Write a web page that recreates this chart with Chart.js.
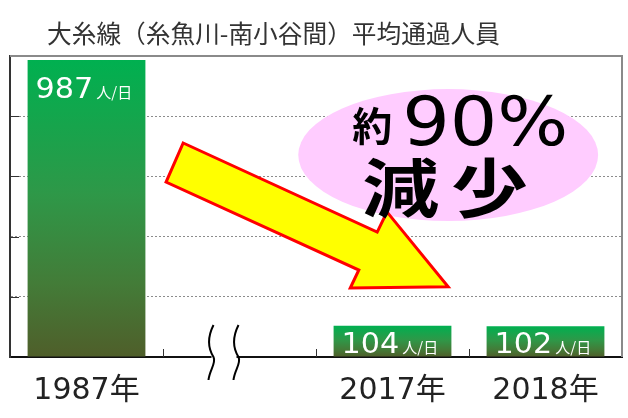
<!DOCTYPE html>
<html>
<head>
<meta charset="utf-8">
<script src="https://cdn.jsdelivr.net/npm/chart.js@4"></script>
<style>
  body { margin: 0; background: #fff; }
  #wrap { position: relative; width: 628px; height: 418px; }
  #title {
    position: absolute; left: 47px; top: 14px;
    font: 24.7px 'Noto Sans CJK JP', sans-serif; color: #333; white-space: nowrap;
  }
</style>
</head>
<body>
<div id="wrap">
  <canvas id="trainChart" width="628" height="418"></canvas>
  <div id="title">大糸線（糸魚川-南小谷間）平均通過人員</div>
</div>
<script>
// chart values
const years = ['1987年', '', '2017年', '2018年'];
const riders = [987, null, 104, 102];
const unitText = '人/日';
const yTicks = [0, 200, 400, 600, 800, 1000];
const calloutSmall = '約';
const calloutBig = '90%';
const calloutWord = '減少';

// arrow outline as fractions of the plot area
const arrowShape = [
    [0.283, 0.289], [0.600, 0.585], [0.616, 0.518], [0.716, 0.767],
    [0.556, 0.771], [0.570, 0.711], [0.255, 0.419]
];

function barFill(c) {
    const chart = c.chart;
    const area = chart.chartArea;
    if (!area || c.raw == null) return '#00B050';
    const top = chart.scales.y.getPixelForValue(c.raw);
    const g = chart.ctx.createLinearGradient(0, top, 0, area.bottom);
    g.addColorStop(0, '#00B050');
    g.addColorStop(0.45, '#2E9848');
    g.addColorStop(0.75, '#437C38');
    g.addColorStop(1, '#4F5E2A');
    return g;
}

const decorations = {
    id: 'decorations',
    afterDatasetsDraw(chart) {
        const ctx = chart.ctx;
        const a = chart.chartArea;
        const x = chart.scales.x;
        const y = chart.scales.y;
        const w = a.right - a.left, h = a.bottom - a.top;

        ctx.save();
        // top and right frame
        ctx.strokeStyle = '#8a8a8a';
        ctx.lineWidth = 2;
        ctx.beginPath();
        ctx.moveTo(a.left, a.top);
        ctx.lineTo(a.right, a.top);
        ctx.lineTo(a.right, a.bottom);
        ctx.stroke();

        // inner tick marks
        ctx.strokeStyle = '#333';
        ctx.lineWidth = 1;
        yTicks.slice(1, -1).forEach(v => {
            const py = Math.round(y.getPixelForValue(v)) + 0.5;
            ctx.beginPath();
            ctx.moveTo(a.left, py);
            ctx.lineTo(a.left + 9, py);
            ctx.stroke();
        });
        for (let i = 0; i < years.length - 1; i++) {
            const px = Math.round((x.getPixelForValue(i) + x.getPixelForValue(i + 1)) / 2) + 0.5;
            ctx.beginPath();
            ctx.moveTo(px, a.bottom);
            ctx.lineTo(px, a.bottom - 8);
            ctx.stroke();
        }

        // axis break
        const cx = x.getPixelForValue(1);
        const breaks = [cx - 28, cx - 3];
        ctx.fillStyle = '#fff';
        ctx.fillRect(breaks[0], a.bottom - 2, breaks[1] - breaks[0], 4);
        ctx.strokeStyle = '#000';
        ctx.lineWidth = 2;
        breaks.forEach(bx => {
            const t = a.bottom - 32, b = a.bottom + 23;
            ctx.beginPath();
            ctx.moveTo(bx + 2, t);
            ctx.bezierCurveTo(bx - 5, t + 14, bx - 3, t + 24, bx + 2, a.bottom);
            ctx.bezierCurveTo(bx + 5, a.bottom + 6, bx - 2, b - 10, bx - 3, b);
            ctx.stroke();
        });

        // pink callout
        const ex = a.left + 0.716 * w, ey = a.top + 0.329 * h;
        ctx.fillStyle = '#FFCCFF';
        ctx.beginPath();
        ctx.ellipse(ex, ey, 0.245 * w, 0.219 * h, 0, 0, Math.PI * 2);
        ctx.fill();

        // arrow
        ctx.fillStyle = '#FFFF00';
        ctx.strokeStyle = '#FF0000';
        ctx.lineWidth = 3;
        ctx.lineJoin = 'miter';
        ctx.beginPath();
        arrowShape.forEach((p, i) => {
            const px = a.left + p[0] * w, py = a.top + p[1] * h;
            if (i === 0) ctx.moveTo(px, py); else ctx.lineTo(px, py);
        });
        ctx.closePath();
        ctx.fill();
        ctx.stroke();

        // callout text
        ctx.fillStyle = '#000';
        ctx.textBaseline = 'alphabetic';
        ctx.textAlign = 'left';
        ctx.font = 'bold 40px "Noto Sans CJK JP"';
        ctx.fillText(calloutSmall, ex - 96, ey - 14);
        ctx.save();
        ctx.translate(ex - 46, ey - 10);
        ctx.scale(1.1, 1);
        ctx.font = '68px "DejaVu Sans"';
        ctx.fillText(calloutBig, 0, 0);
        ctx.restore();
        ctx.save();
        ctx.translate(ex - 86, ey + 57);
        ctx.scale(1.2, 1);
        ctx.font = 'bold 64px "Noto Sans CJK JP"';
        ctx.letterSpacing = '10px';
        ctx.fillText(calloutWord, 0, 0);
        ctx.restore();

        // value labels inside the bars
        const meta = chart.getDatasetMeta(0);
        meta.data.forEach((bar, i) => {
            if (riders[i] == null) return;
            const left = bar.x - bar.width / 2 + 8;
            const base = Math.min(bar.y + 38, a.bottom - 4);
            ctx.fillStyle = '#fff';
            ctx.save();
            ctx.translate(left, base);
            ctx.scale(1.08, 1);
            ctx.font = '28px "DejaVu Sans"';
            const num = String(riders[i]);
            ctx.fillText(num, 0, 0);
            const nw = ctx.measureText(num).width * 1.08;
            ctx.restore();
            ctx.font = '15px "Noto Sans CJK JP"';
            ctx.fillText(unitText, left + nw + 3, base);
        });
        ctx.restore();
    }
};

new Chart(document.getElementById('trainChart'), {
    type: 'bar',
    data: {
        labels: years,
        datasets: [{
            data: riders,
            backgroundColor: barFill,
            borderWidth: 0,
            categoryPercentage: 1,
            barPercentage: 0.77
        }]
    },
    options: {
        responsive: false,
        animation: false,
        devicePixelRatio: 1,
        layout: { padding: { left: 10, right: 6, top: 56, bottom: 0 } },
        plugins: { legend: { display: false }, title: { display: false }, tooltip: { enabled: false } },
        scales: {
            x: {
                afterFit: scale => { scale.height = 61; },
                grid: { display: false, drawTicks: false },
                border: { display: true, color: '#111', width: 2 },
                ticks: {
                    color: '#222',
                    padding: 16,
                    font: { family: "'DejaVu Sans', 'Noto Sans CJK JP'", size: 30 }
                }
            },
            y: {
                min: 0,
                max: 1000,
                ticks: { display: false, stepSize: 200 },
                grid: {
                    drawTicks: false,
                    color: c => (c.tick.value === 0 || c.tick.value === 1000) ? 'rgba(0,0,0,0)' : '#8c8c8c',
                    lineWidth: 1
                },
                border: { display: true, color: '#333', width: 2, dash: [2, 2] }
            }
        }
    },
    plugins: [decorations]
});
</script>
</body>
</html>
